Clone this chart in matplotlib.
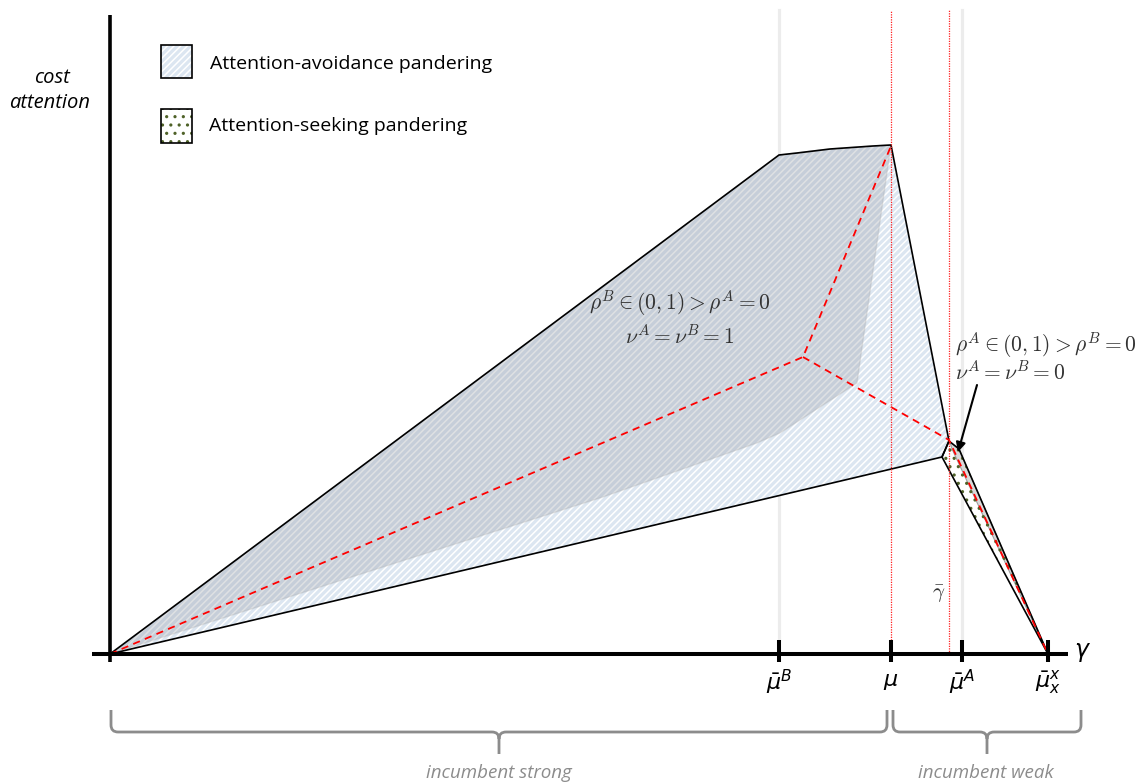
import matplotlib
matplotlib.use("Agg")
import matplotlib.pyplot as plt
from matplotlib.patches import Polygon, Rectangle, PathPatch
from matplotlib.path import Path

plt.rcParams["mathtext.fontset"] = "cm"
plt.rcParams["hatch.linewidth"] = 1.1

# gamma positions of the marked points (origin = 0)
tick_pos = [669, 781, 852, 938]
tick_labels = [r"$\bar{\mu}^B$", r"$\mu$", r"$\bar{\mu}^A$", r"$\bar{\mu}_x^x$"]
gamma_bar = 839

# attention-avoidance region (outer boundary)
avoid_x = [0, 669, 687, 720, 763, 781, 839, 832]
avoid_y = [0, 499, 501, 505, 508, 509, 213, 197]

# darker overlay inside it
overlay_x = [0, 669, 687, 720, 763, 781, 747, 670, 647, 493]
overlay_y = [0, 499, 501, 505, 508, 509, 271, 221, 211, 157]

# attention-seeking region (thin triangle)
seek_x = [839, 849, 938, 832]
seek_y = [213, 205, 0, 197]
band_x = [840, 849, 938, 842]
band_y = [212, 205, 0, 205]

# red dashed threshold lines
red1_x = [0, 693, 781]
red1_y = [0, 297, 508]
red2_x = [693, 839, 938]
red2_y = [297, 214, 0]

blue = "#dce6f1"
dots = "#4f6228"

fig = plt.figure(figsize=(11.35, 7.84), dpi=100)
ax = fig.add_axes([0, 0, 1, 1])
ax.set_xlim(-110, 1025)
ax.set_ylim(-130, 654)
ax.axis("off")

# helper lines in the background
for x in [tick_pos[0], tick_pos[2]]:
    ax.plot([x, x], [14, 644], color="#ececec", lw=2.3, zorder=0)
ax.plot([tick_pos[1], tick_pos[1]], [14, 644], color="#ff2020", lw=0.9,
        ls=(0, (1, 1)), zorder=6)
ax.plot([gamma_bar, gamma_bar], [0, 644], color="#ff2020", lw=0.9,
        ls=(0, (1, 1)), zorder=6)

# attention-avoidance region
ax.add_patch(Polygon(list(zip(avoid_x, avoid_y)), facecolor=blue, edgecolor="white",
                     hatch="/////", lw=0, zorder=1))
ax.add_patch(Polygon(list(zip(overlay_x, overlay_y)), facecolor="#8d939c", alpha=0.28,
                     edgecolor="#a8a8a8", lw=1, zorder=2))
ax.add_patch(Polygon(list(zip(avoid_x, avoid_y)), fill=False, edgecolor="black",
                     lw=1.2, zorder=4))

# attention-seeking region
ax.add_patch(Polygon(list(zip(seek_x, seek_y)), facecolor="white", lw=0, zorder=1))
ax.add_patch(Polygon(list(zip(band_x, band_y)), facecolor="#d9d9d9",
                     edgecolor="#a0a0a0", lw=0.8, zorder=2))
ax.add_patch(Polygon(list(zip(seek_x, seek_y)), facecolor="none", edgecolor=dots,
                     hatch="..", lw=0, zorder=3))
ax.add_patch(Polygon(list(zip(seek_x, seek_y)), fill=False, edgecolor="black",
                     lw=1.2, zorder=4))

ax.plot(red1_x, red1_y, color="red", lw=1.3, ls=(0, (4, 3)), zorder=5)
ax.plot(red2_x, red2_y, color="red", lw=1.3, ls=(0, (4, 3)), zorder=5)

# axes
ax.plot([0, 0], [-8, 639], color="black", lw=2.6, zorder=7, solid_capstyle="butt")
ax.plot([-18, 958], [0, 0], color="black", lw=2.9, zorder=7, solid_capstyle="butt")
for x, lab in zip(tick_pos, tick_labels):
    ax.plot([x, x], [-8, 14], color="black", lw=2.9, zorder=7, solid_capstyle="butt")
    ax.text(x, -28, lab, ha="center", va="center", fontsize=16,
            math_fontfamily="dejavusans")
ax.text(973, 2, r"$\gamma$", ha="center", va="center", fontsize=17,
        math_fontfamily="dejavusans")
ax.text(829, 60, r"$\bar{\gamma}$", ha="center", va="center", fontsize=15, color="#333333")

ax.text(-58, 576, "cost", ha="center", va="center", fontsize=14.5,
        style="italic", family="Open Sans")
ax.text(-60, 551, "attention", ha="center", va="center", fontsize=14.5,
        style="italic", family="Open Sans")

# legend
ax.add_patch(Rectangle((51, 576), 31, 33, facecolor=blue, edgecolor="white",
                       hatch="/////", lw=0, zorder=1))
ax.add_patch(Rectangle((51, 576), 31, 33, fill=False, edgecolor="black", lw=1.2, zorder=4))
ax.add_patch(Rectangle((51, 511), 31, 34, facecolor="white", lw=0, zorder=1))
ax.add_patch(Rectangle((51, 511), 31, 34, facecolor="none", edgecolor=dots,
                       hatch="..", lw=0, zorder=3))
ax.add_patch(Rectangle((51, 511), 31, 34, fill=False, edgecolor="black", lw=1.2, zorder=4))
ax.text(100, 590, "Attention-avoidance pandering", va="center", fontsize=14,
        family="Open Sans")
ax.text(99, 528, "Attention-seeking pandering", va="center", fontsize=14,
        family="Open Sans")

# region annotations
ax.text(570, 351, r"$\rho^B \in (0,1) > \rho^A = 0$", ha="center", va="center",
        fontsize=15.5, color="#333333", zorder=8)
ax.text(570, 318, r"$\nu^A = \nu^B = 1$", ha="center", va="center",
        fontsize=15.5, color="#333333", zorder=8)
ax.text(845, 309, r"$\rho^A \in (0,1) > \rho^B = 0$", ha="left", va="center",
        fontsize=15.5, color="#333333", zorder=8)
ax.text(845, 282, r"$\nu^A = \nu^B = 0$", ha="left", va="center",
        fontsize=15.5, color="#333333", zorder=8)
ax.annotate("", xy=(848, 202), xytext=(867, 269),
            arrowprops=dict(arrowstyle="-|>", color="black", lw=1.5,
                            mutation_scale=14, shrinkA=0, shrinkB=0), zorder=9)


def brace(x0, x1, y_top, y_mid, y_tip, r):
    xm = (x0 + x1) / 2
    verts = [(x0, y_top), (x0, y_mid + r), (x0, y_mid), (x0 + r, y_mid),
             (xm - r, y_mid), (xm, y_mid), (xm, y_mid - r), (xm, y_tip),
             (xm, y_mid - r), (xm, y_mid), (xm + r, y_mid),
             (x1 - r, y_mid), (x1, y_mid), (x1, y_mid + r), (x1, y_top)]
    codes = [Path.MOVETO, Path.LINETO, Path.CURVE3, Path.CURVE3,
             Path.LINETO, Path.CURVE3, Path.CURVE3, Path.LINETO,
             Path.MOVETO, Path.CURVE3, Path.CURVE3,
             Path.LINETO, Path.CURVE3, Path.CURVE3, Path.LINETO]
    return PathPatch(Path(verts, codes), fill=False, edgecolor="#8c8c8c", lw=2)


ax.add_patch(brace(1, 777, -56, -78, -100, 7))
ax.add_patch(brace(783, 971, -56, -78, -100, 7))
ax.text(389, -128, "incumbent strong", ha="center", va="bottom", fontsize=13.5,
        style="italic", color="#8c8c8c", family="Open Sans")
ax.text(876, -128, "incumbent weak", ha="center", va="bottom", fontsize=13.5,
        style="italic", color="#8c8c8c", family="Open Sans")

fig.savefig("out.png", dpi=100)
